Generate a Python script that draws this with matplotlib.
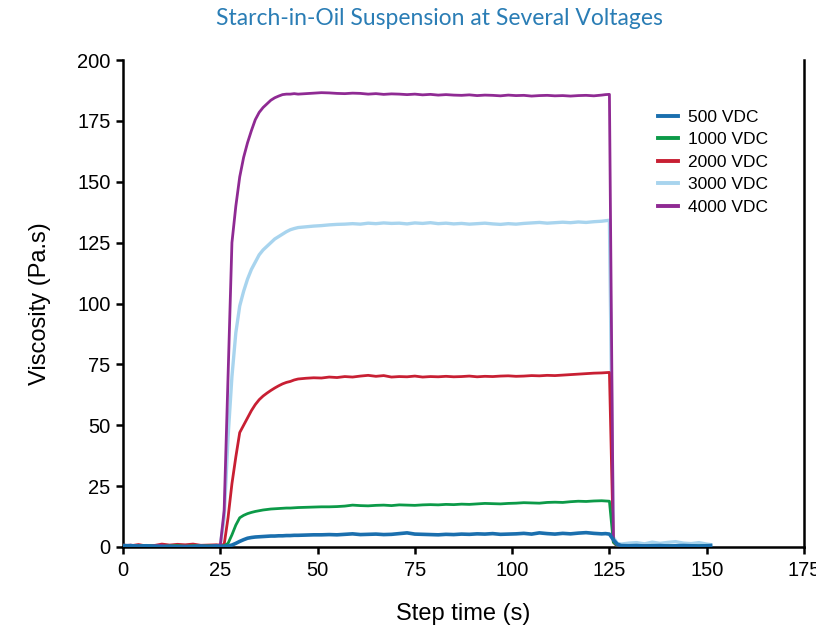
import matplotlib
matplotlib.use("Agg")
import matplotlib.pyplot as plt

# ---- data ----
t_pre = [0, 2, 4, 6, 8, 10, 12, 14, 16, 18, 20, 22, 24]
t_rise = [25, 26, 27, 28, 29, 30, 31, 32, 33, 34, 35, 36, 37, 38, 39, 40, 41, 42, 43, 44, 45]
t_plat = [47, 49, 51, 53, 55, 57, 59, 61, 63, 65, 67, 69, 71, 73, 75, 77, 79, 81, 83, 85,
          87, 89, 91, 93, 95, 97, 99, 101, 103, 105, 107, 109, 111, 113, 115, 117, 119, 121, 123]
t_drop = [124, 125, 126, 127, 128]
t_post = [130, 132, 134, 136, 138, 140, 142, 144, 146, 148, 150, 151]
time = t_pre + t_rise + t_plat + t_drop + t_post

v500 = ([0.6, 0.5, 0.4, 0.5, 0.3, 0.2, 0.3, 0.1, 0.0, 0.2, 0.3, 0.2, 0.4]
        + [0.3, 0.3, 0.4, 0.8, 1.5, 2.3, 3.0, 3.6, 3.9, 4.1, 4.2, 4.3, 4.4, 4.5, 4.5, 4.6, 4.6, 4.7, 4.7, 4.8, 4.8]
        + [4.9, 5.0, 5.0, 5.1, 5.0, 5.2, 5.4, 5.1, 5.2, 5.3, 5.1, 5.2, 5.5, 5.8, 5.3, 5.2, 5.1, 5.0, 5.2, 5.1,
           5.3, 5.2, 5.4, 5.3, 5.5, 5.2, 5.3, 5.4, 5.6, 5.3, 5.8, 5.5, 5.3, 5.6, 5.4, 5.7, 5.9, 5.6, 5.4]
        + [5.5, 5.3, 3.0, 1.2, 0.6]
        + [0.5, 0.6, 0.4, 0.5, 0.6, 0.4, 0.5, 0.6, 0.5, 0.4, 0.5, 0.6])
v1000 = ([0.5, 0.7, 0.4, 0.6, 0.5, 0.3, 0.4, 0.6, 0.4, 0.5, 0.6, 0.5, 0.7]
         + [0.5, 0.5, 1.5, 5.0, 9.0, 12.0, 13.0, 13.7, 14.2, 14.6, 14.9, 15.2, 15.4, 15.6, 15.7, 15.8, 15.9, 16.0, 16.0, 16.1, 16.2]
         + [16.3, 16.4, 16.5, 16.5, 16.6, 16.8, 17.2, 17.0, 16.9, 17.1, 17.2, 17.0, 17.3, 17.2, 17.1, 17.3, 17.4, 17.3, 17.5, 17.4,
            17.6, 17.5, 17.7, 17.9, 17.8, 17.7, 17.9, 18.0, 18.2, 18.1, 18.0, 18.3, 18.4, 18.3, 18.6, 18.8, 18.7, 18.9, 19.0]
         + [18.9, 18.8, 2.0, 0.5, 0.5]
         + [0.4, 0.6, 0.5, 0.7, 0.5, 0.6, 0.4, 0.5, 0.6, 0.5, 0.7, 0.6])
v2000 = ([0.8, 0.5, 1.0, 0.4, 0.6, 1.2, 0.8, 1.1, 0.9, 1.2, 0.7, 0.8, 0.9]
         + [0.8, 1.0, 12.0, 26.0, 37.0, 47.0, 50.0, 53.0, 56.0, 58.5, 60.5, 62.0, 63.2, 64.3, 65.3, 66.2, 67.0, 67.6, 68.0, 68.6, 69.0]
         + [69.3, 69.5, 69.4, 69.8, 69.6, 70.0, 69.8, 70.2, 70.5, 70.1, 70.4, 69.8, 70.0, 69.9, 70.2, 69.8, 70.0, 69.9, 70.1, 69.9,
            70.0, 70.2, 69.9, 70.1, 70.0, 70.2, 70.3, 70.1, 70.2, 70.4, 70.3, 70.5, 70.4, 70.6, 70.8, 71.0, 71.2, 71.4, 71.5]
         + [71.6, 71.7, 2.0, 0.3, 0.2]
         + [0.1, 0.2, -0.2, -0.3, -0.1, -0.2, -0.4, -0.3, 0.0, -0.2, 0.0, 0.1])
v3000 = ([0.3, 0.2, 0.1, 0.0, -0.2, 0.1, 0.0, -0.2, -0.3, 0.0, 0.2, 0.1, 0.4]
         + [0.5, 12.0, 45.0, 70.0, 88.0, 99.0, 105.0, 110.0, 114.0, 117.0, 120.0, 122.0, 123.5, 125.0, 126.5, 127.5, 128.5, 129.5, 130.3, 130.8, 131.2]
         + [131.5, 131.8, 132.0, 132.3, 132.5, 132.6, 132.8, 132.6, 133.0, 132.8, 133.1, 132.9, 133.0, 132.7, 133.1, 132.9, 133.2, 132.8, 133.0, 132.7,
            132.9, 132.6, 132.8, 133.0, 132.7, 132.5, 132.8, 132.6, 132.9, 133.1, 133.3, 133.0, 133.2, 133.4, 133.2, 133.5, 133.3, 133.6, 133.8]
         + [134.0, 134.2, 4.0, 1.5, 1.2]
         + [1.6, 1.8, 1.3, 2.0, 1.5, 1.9, 2.2, 1.6, 1.4, 1.8, 1.2, 1.0])
v4000 = ([0.5, 0.8, 0.3, 0.2, 0.5, 0.6, -0.2, 0.3, 0.4, 0.2, 0.5, 0.3, 0.6]
         + [0.5, 15.0, 70.0, 125.0, 140.0, 152.0, 160.0, 166.0, 171.0, 175.5, 178.5, 180.5, 182.0, 183.5, 184.5, 185.2, 185.8, 186.0, 186.0, 186.2, 186.0]
         + [186.2, 186.4, 186.6, 186.5, 186.3, 186.2, 186.4, 186.3, 186.0, 186.2, 185.9, 186.1, 186.0, 185.8, 186.0, 185.7, 185.9, 185.6, 185.8, 185.6,
            185.5, 185.7, 185.4, 185.6, 185.5, 185.3, 185.6, 185.4, 185.5, 185.2, 185.4, 185.5, 185.3, 185.4, 185.2, 185.4, 185.5, 185.3, 185.6]
         + [185.8, 185.9, 3.0, 0.8, 0.5]
         + [0.3, 0.2, 0.5, 0.3, 0.1, 0.4, 0.2, -0.3, -0.2, 0.1, 0.2, 0.1])

labels = ["500 VDC", "1000 VDC", "2000 VDC", "3000 VDC", "4000 VDC"]
colors = ["#1a6fae", "#0c9a48", "#c81f33", "#a8d4ee", "#8f2a93"]
x_ticks = [0, 25, 50, 75, 100, 125, 150, 175]
y_ticks = [0, 25, 50, 75, 100, 125, 150, 175, 200]

# ---- plot ----
plt.rcParams['font.family'] = ['Liberation Sans', 'DejaVu Sans']
fig = plt.figure(figsize=(8.16, 6.32), dpi=100)
ax = fig.add_axes([0.1507, 0.1345, 0.8346, 0.7705])

series = [v500, v1000, v2000, v3000, v4000]
zorders = [6, 4, 3, 2, 5]
widths = [2.6, 2.0, 2.0, 2.4, 2.0]
for vals, lab, col, z, w in zip(series, labels, colors, zorders, widths):
    ax.plot(time, vals, color=col, lw=w, label=lab, zorder=z, solid_joinstyle='round')

ax.set_xlim(0, 175)
ax.set_ylim(0, 200)
ax.set_xticks(x_ticks)
ax.set_yticks(y_ticks)
ax.tick_params(axis='both', labelsize=14.5, length=5, width=1.8, direction='out')
ax.tick_params(axis='x', pad=5)
ax.tick_params(axis='y', pad=4)
ax.spines['top'].set_visible(False)
for s in ['left', 'bottom', 'right']:
    ax.spines[s].set_linewidth(1.8)

ax.set_xlabel("Step time (s)", fontsize=17, labelpad=17)
ax.set_ylabel("Viscosity (Pa.s)", fontsize=17, labelpad=19)
fig.text(0.539, 0.971, "Starch-in-Oil Suspension at Several Voltages", ha='center', va='center',
         fontsize=16.5, color="#2a7db5", family=['Lato', 'DejaVu Sans'])

leg = ax.legend(loc='upper left', bbox_to_anchor=(0.762, 0.93), frameon=False, fontsize=12.5,
                handlelength=1.2, handletextpad=0.55, labelspacing=0.42)
for line in leg.get_lines():
    line.set_linewidth(2.8)

fig.savefig("out.png", dpi=100)
